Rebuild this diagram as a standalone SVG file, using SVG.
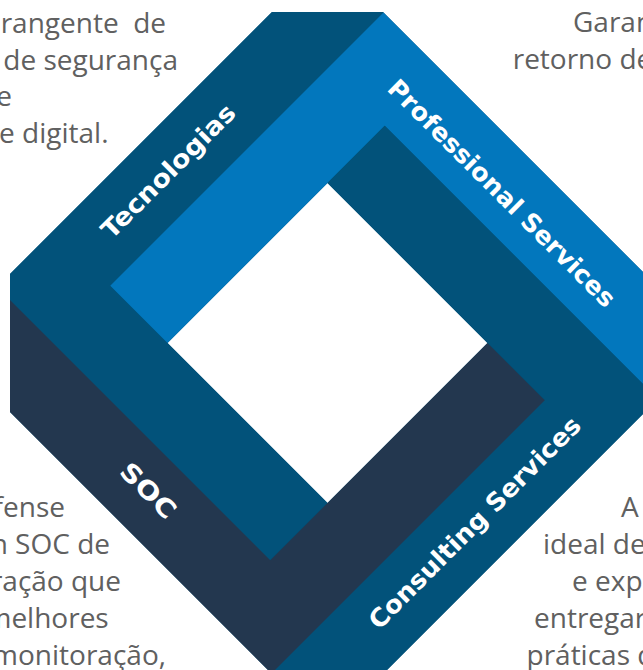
<svg xmlns="http://www.w3.org/2000/svg" width="643" height="670" viewBox="0 0 643 670">
  <style>
    .teal { fill: #02527A; }
    .blue { fill: #0277BD; }
    .navy { fill: #23374F; }
    .lbl { font-family: "DejaVu Sans", "Open Sans", sans-serif; font-weight: 700; font-size: 25px; fill: #FFFFFF; text-anchor: middle; }
    .body { font-family: "Open Sans", "Noto Sans", "DejaVu Sans", sans-serif; font-size: 28px; fill: #606060; }
    .end { text-anchor: end; }
    .start { text-anchor: start; }
  </style>
  <defs>
    <clipPath id="frame">
      <rect x="10" y="12" width="635" height="662"/>
    </clipPath>
  </defs>
  <rect x="0" y="0" width="643" height="670" fill="#FFFFFF"/>

  <g id="frame-shapes" clip-path="url(#frame)">
    <path class="teal" fill-rule="evenodd" d="M327.5,-43.5 L714,343 L327.5,729.5 L-59,343 Z M327.5,183 L487.5,343 L327.5,503 L167.5,343 Z"/>
    <g id="node-tecnologias">
      <polygon class="teal" points="383.5,12.5 110.25,285.75 327.5,503 270.25,560.25 -3,287 327.5,-43.5"/>
    </g>
    <g id="node-professional-services">
      <polygon class="blue" points="658,399 384.75,125.75 167.5,343 110.25,285.75 383.5,12.5 714,343"/>
    </g>
    <g id="node-consulting-services">
      <polygon class="teal" points="271.5,673.5 544.75,400.25 327.5,183 384.75,125.75 658,399 327.5,729.5"/>
    </g>
    <g id="node-soc">
      <polygon class="navy" points="-3,287 270.25,560.25 487.5,343 544.75,400.25 271.5,673.5 -59,343"/>
    </g>
  </g>

  <g id="labels">
    <text class="lbl" transform="translate(168,171) rotate(-45)" y="9" textLength="178" lengthAdjust="spacingAndGlyphs">Tecnologias</text>
    <text class="lbl" transform="translate(502,193) rotate(45)" y="9" textLength="310" lengthAdjust="spacingAndGlyphs">Professional Services</text>
    <text class="lbl" transform="translate(148.5,490.5) rotate(45)" y="9" textLength="68" lengthAdjust="spacingAndGlyphs">SOC</text>
    <text class="lbl" transform="translate(474.5,522.5) rotate(-45)" y="9" textLength="288" lengthAdjust="spacingAndGlyphs">Consulting Services</text>
  </g>

  <g id="text-top-left" class="body end">
    <text x="166" y="33">rangente&#160; de</text>
    <text x="178" y="69.5">de segurança</text>
    <text x="12" y="106">e</text>
    <text x="108.5" y="143">e digital.</text>
  </g>

  <g id="text-top-right" class="body start">
    <text x="573" y="32">Garan</text>
    <text x="512.7" y="68.5">retorno de</text>
  </g>

  <g id="text-bottom-left" class="body end">
    <text x="65" y="517">fense</text>
    <text x="110" y="554">n SOC de</text>
    <text x="121" y="591">ração que</text>
    <text x="108.7" y="628">melhores</text>
    <text x="166" y="664.5">monitoração,</text>
  </g>

  <g id="text-bottom-right" class="body start">
    <text x="621" y="517">A</text>
    <text x="543" y="554">ideal de</text>
    <text x="572" y="591">e expo</text>
    <text x="534" y="628">entregar</text>
    <text x="526.5" y="664.5">práticas d</text>
  </g>
</svg>
